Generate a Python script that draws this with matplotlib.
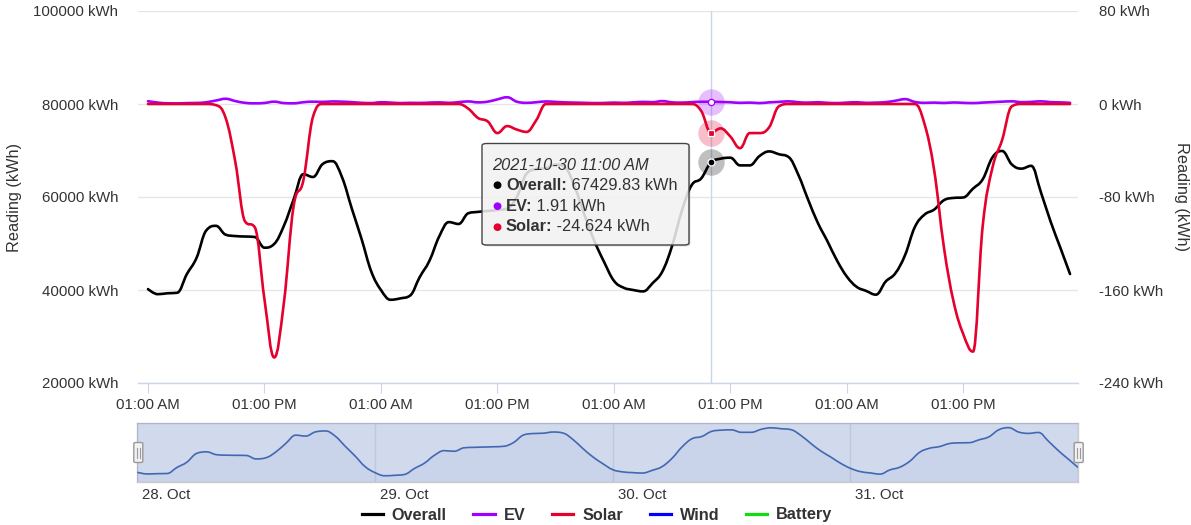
import matplotlib
matplotlib.use("Agg")
import matplotlib.pyplot as plt
from matplotlib.path import Path
from matplotlib.patches import PathPatch, FancyBboxPatch, Rectangle
from matplotlib.lines import Line2D
from matplotlib.text import Annotation
import matplotlib.transforms as mtransforms

# ---------------- data (hourly, 2021-10-28 01:00 -> 2021-11-01 00:00) ----------------
overall = [40200, 39100, 39300, 39400, 43400, 46900, 52800, 53800, 51900, 51600, 51500, 51400,
           49100, 49900, 53800, 59450, 64900, 64300, 67100, 67700, 64200, 57500, 51000, 44000,
           40000, 37900, 38200, 38800, 42800, 46300, 51500, 54600, 54200, 56500, 56800, 57000,
           57200, 57500, 60000, 65000, 66000, 66200, 67000, 66300, 62000, 56000, 50500, 46000,
           42000, 40500, 40000, 39700, 41500, 44000, 49500, 57000, 62500, 64000, 67429.83, 68240,
           68450, 66800, 66800, 68800, 69800, 69200, 68600, 64800, 59500, 54500, 50500, 46300,
           42900, 40700, 39800, 39000, 41800, 43600, 47500, 53500, 56200, 57300, 59300, 59800,
           59900, 61800, 63800, 68500, 69900, 67000, 66100, 66700, 61000, 54700, 49100, 43430]

ev = [2.4, 1.2, 0.6, 0.5, 0.8, 0.9, 1.5, 3.0, 4.5, 2.5, 1.0, 0.6, 0.9, 2.0, 0.8, 0.6, 1.5, 2.0, 1.8, 2.2, 2.0, 1.6, 1.0, 0.8,
      1.5, 1.2, 0.8, 1.0, 0.9, 1.2, 1.4, 1.0, 1.6, 2.2, 1.4, 2.0, 4.0, 5.8, 2.0, 1.0, 1.5, 2.2, 1.8, 1.4, 1.2, 1.0, 0.8, 0.9,
      1.2, 1.0, 1.4, 1.8, 1.6, 2.5, 1.4, 1.2, 1.6, 1.9, 1.91, 1.7, 1.5, 1.0, 1.2, 0.8, 1.4, 1.8, 2.3, 1.5, 1.2, 1.5, 1.0, 0.8,
      1.2, 1.5, 1.0, 1.2, 1.6, 2.8, 4.2, 1.8, 1.0, 1.2, 0.9, 1.3, 1.0, 0.8, 1.2, 1.6, 2.0, 2.3, 1.6, 1.8, 2.3, 1.6, 1.4, 1.0]

solar = [0, 0, 0, 0, 0, 0, 0, -1, -12, -50, -101, -106, -168, -218, -171, -88, -66, -11, 0, 0, 0, 0, 0, 0,
         0, 0, 0, 0, 0, 0, 0, 0, 0, -4, -12, -15, -25, -19, -22, -24, -14, 0, 0, 0, 0, 0, 0, 0,
         0, 0, 0, 0, 0, 0, 0, 0, 0, -6, -24.624, -21, -28, -38, -25, -25, -20, -2, 0, 0, 0, 0, 0, 0,
         0, 0, 0, 0, 0, 0, 0, 0, -17, -57, -123, -170, -198, -213, -105, -55, -31, -2, 0, 0, 0, 0, 0, 0]

hours = list(range(len(overall)))
series_names = ["Overall", "EV", "Solar", "Wind", "Battery"]
series_colors = ["#000000", "#a000ff", "#e5002d", "#0000ff", "#11dd11"]
x_tick_pos = [0, 12, 24, 36, 48, 60, 72, 84]
x_tick_labels = ["01:00 AM", "01:00 PM"] * 4
nav_day_pos = [0, 24, 48, 72]
nav_day_labels = ["28. Oct", "29. Oct", "30. Oct", "31. Oct"]
left_ticks = [20000, 40000, 60000, 80000, 100000]
right_ticks = [-240, -160, -80, 0, 80]
hover_idx = 58
tooltip_title = "2021-10-30 11:00 AM"

# ---------------- helpers ----------------
W, H = 1191, 525
FONT = ["Liberation Sans", "DejaVu Sans"]
plt.rcParams['font.family'] = FONT
TXT = "#333333"


def fx(px):
    return px / W


def fy(py):
    return 1 - py / H


def spline_verts(xs, ys):
    n = len(xs)
    sm = 1.5
    den = sm + 1
    lc = [None] * n
    rc = [None] * n
    for i in range(n):
        x, y = xs[i], ys[i]
        if 0 < i < n - 1:
            lx, ly = xs[i - 1], ys[i - 1]
            nx, ny = xs[i + 1], ys[i + 1]
            lcx = (sm * x + lx) / den
            lcy = (sm * y + ly) / den
            rcx = (sm * x + nx) / den
            rcy = (sm * y + ny) / den
            if rcx != lcx:
                corr = ((rcy - lcy) * (rcx - x)) / (rcx - lcx) + y - rcy
                lcy += corr
                rcy += corr
            if lcy > ly and lcy > y:
                lcy = max(ly, y)
                rcy = 2 * y - lcy
            elif lcy < ly and lcy < y:
                lcy = min(ly, y)
                rcy = 2 * y - lcy
            if rcy > ny and rcy > y:
                rcy = max(ny, y)
                lcy = 2 * y - rcy
            elif rcy < ny and rcy < y:
                rcy = min(ny, y)
                lcy = 2 * y - rcy
            lc[i] = (lcx, lcy)
            rc[i] = (rcx, rcy)
        else:
            lc[i] = (x, y)
            rc[i] = (x, y)
    verts = [(xs[0], ys[0])]
    codes = [Path.MOVETO]
    for i in range(1, n):
        verts += [rc[i - 1], lc[i], (xs[i], ys[i])]
        codes += [Path.CURVE4] * 3
    return verts, codes


def add_spline(ax, xs, ys, color, lw, z=3):
    v, c = spline_verts(xs, ys)
    ax.add_patch(PathPatch(Path(v, c), fill=False, edgecolor=color, lw=lw,
                           zorder=z, capstyle='round', joinstyle='round'))


fig = plt.figure(figsize=(W / 100, H / 100), dpi=100)

# ---------------- main axes ----------------
ax = fig.add_axes([fx(138), fy(383), fx(1078 - 138), (383 - 11) / H])
ax2 = ax.twinx()
ax.set_xlim(-1.03, 95.82)
ax.set_ylim(20000, 100000)
ax2.set_ylim(-240, 80)

for a in (ax, ax2):
    for s in a.spines.values():
        s.set_visible(False)
ax.spines['bottom'].set_visible(True)
ax.spines['bottom'].set_color('#ccd6eb')
ax.spines['bottom'].set_linewidth(1.0)

ax.set_yticks(left_ticks)
ax.set_yticklabels([f"{v} kWh" for v in left_ticks])
ax2.set_yticks(right_ticks)
ax2.set_yticklabels([f"{v} kWh" for v in right_ticks])
ax.tick_params(axis='y', length=0, pad=14.4, labelsize=10.8, labelcolor=TXT)
ax2.tick_params(axis='y', length=0, pad=15, labelsize=10.8, labelcolor=TXT)
for lab in ax.get_yticklabels() + ax2.get_yticklabels():
    lab.set_y(lab.get_position()[1])
ax.set_xticks(x_tick_pos)
ax.set_xticklabels(x_tick_labels)
ax.tick_params(axis='x', length=7.5, width=0.8, color='#ccd6eb', pad=3.5,
               labelsize=10.8, labelcolor=TXT)
ax.yaxis.grid(True, color='#e6e6e6', lw=1.0)
ax.set_axisbelow(True)

# crosshair
ax.axvline(hover_idx, color='#ccd6eb', lw=1.0, zorder=1)

add_spline(ax, hours, overall, series_colors[0], 1.9)
add_spline(ax2, hours, ev, series_colors[1], 1.9, z=3)
add_spline(ax2, hours, solar, series_colors[2], 1.9, z=4)

# hover halos + markers
ax.plot([hover_idx], [overall[hover_idx]], 'o', ms=19, color='#000000', alpha=0.25, mew=0, zorder=5)
ax.plot([hover_idx], [overall[hover_idx]], 'o', ms=5, color='#000000', mec='white', mew=0.9, zorder=6)
ax2.plot([hover_idx], [ev[hover_idx]], 'o', ms=19, color=series_colors[1], alpha=0.25, mew=0, zorder=5)
ax2.plot([hover_idx], [ev[hover_idx]], 'o', ms=4.5, color='white', mec=series_colors[1], mew=0.9, zorder=6)
ax2.plot([hover_idx], [solar[hover_idx]], 'o', ms=19, color=series_colors[2], alpha=0.25, mew=0, zorder=5)
ax2.plot([hover_idx], [solar[hover_idx]], 's', ms=4.5, color=series_colors[2], mec='white', mew=0.9, zorder=6)

# axis titles
fig.text(fx(15), fy(197), "Reading (kWh)", rotation=90, ha='center', va='center',
         fontsize=11.7, color=TXT)
fig.text(fx(1181), fy(197), "Reading (kWh)", rotation=270, ha='center', va='center',
         fontsize=11.7, color=TXT)

# ---------------- navigator ----------------
nav = fig.add_axes([fx(137.3), fy(482), fx(1078 - 137.3), 59 / H])
nav.set_xlim(0, 95)
nav.set_ylim(33750, 73000)
nav.set_xticks([])
nav.set_yticks([])
for s in nav.spines.values():
    s.set_color('#cccccc')
    s.set_linewidth(1.0)
for d in nav_day_pos[1:]:
    nav.axvline(d, color='#e6e6e6', lw=1.0, zorder=1)
v, c = spline_verts(hours, overall)
fill_v = v + [(hours[-1], 33750), (hours[0], 33750), (hours[0], overall[0])]
fill_c = c + [Path.LINETO, Path.LINETO, Path.CLOSEPOLY]
nav.add_patch(PathPatch(Path(fill_v, fill_c), facecolor='#335cad', alpha=0.05, lw=0, zorder=2))
nav.add_patch(PathPatch(Path(v, c), fill=False, edgecolor='#335cad', lw=1.2, zorder=3))
nav.add_patch(Rectangle((0, 0), 1, 1, transform=nav.transAxes,
                        facecolor=(102 / 255, 133 / 255, 194 / 255, 0.3), lw=0, zorder=4))
blend = mtransforms.blended_transform_factory(nav.transData, nav.transAxes)
off = mtransforms.offset_copy(blend, fig=fig, x=5, y=0, units='dots')
for d, lab in zip(nav_day_pos, nav_day_labels):
    nav.text(d, -0.22, lab, transform=off, ha='left', va='center', fontsize=10.8,
             color=TXT, clip_on=False)

# navigator handles
for cx in (138.3, 1078.7):
    cy = 452.5
    hw, hh = 9, 20
    fig.patches.append(FancyBboxPatch((fx(cx - hw / 2), fy(cy + hh / 2)), fx(hw), hh / H,
                                      boxstyle='round,pad=0,rounding_size=0.002',
                                      transform=fig.transFigure, facecolor='#f2f2f2',
                                      edgecolor='#999999', lw=1.0, zorder=10))
    for dx in (-1.5, 1.5):
        fig.add_artist(Line2D([fx(cx + dx), fx(cx + dx)], [fy(cy - 5), fy(cy + 5)],
                              transform=fig.transFigure, color='#999999', lw=0.8, zorder=11))

# ---------------- tooltip ----------------
bx0, by0, bx1, by1 = 482, 143.5, 689, 245
fig.patches.append(FancyBboxPatch((fx(bx0 + 1.5), fy(by1 + 1.5)), fx(bx1 - bx0), (by1 - by0) / H,
                                  boxstyle='round,pad=0,rounding_size=0.004',
                                  transform=fig.transFigure, facecolor='black', alpha=0.12,
                                  lw=0, zorder=20))
fig.patches.append(FancyBboxPatch((fx(bx0), fy(by1)), fx(bx1 - bx0), (by1 - by0) / H,
                                  boxstyle='round,pad=0,rounding_size=0.004',
                                  transform=fig.transFigure, facecolor=(0.97, 0.97, 0.97, 0.85),
                                  edgecolor='#444444', lw=1.0, zorder=21))
fig.text(fx(492.5), fy(165), tooltip_title, style='italic', fontsize=11.8, color=TXT,
         ha='left', va='center', zorder=22)
rows = [(series_names[0], series_colors[0], f"{overall[hover_idx]:.2f} kWh", 185.5),
        (series_names[1], series_colors[1], f"{ev[hover_idx]:.2f} kWh", 206.5),
        (series_names[2], series_colors[2], f"{solar[hover_idx]:.3f} kWh", 227)]
for name, col, val, py in rows:
    fig.text(fx(497), fy(py), "\u25CF", color=col, fontsize=7.5, ha='center', va='center',
             zorder=22, family=["DejaVu Sans"])
    t = fig.text(fx(506), fy(py), name + ":", fontweight='bold', fontsize=11.8, color=TXT,
                 ha='left', va='center', zorder=22)
    ann = Annotation(" " + val, xy=(1, fy(py)), xycoords=(t, 'figure fraction'),
                     fontsize=11.8, color=TXT, ha='left', va='center', zorder=22)
    fig.add_artist(ann)

# ---------------- legend ----------------
handles = [Line2D([], [], color=c, lw=2.3) for c in series_colors]
leg = fig.legend(handles, series_names, loc='center', bbox_to_anchor=(0.5013, fy(515)),
                 ncol=5, frameon=False, prop={'weight': 'bold', 'size': 11.7},
                 handlelength=1.3, handletextpad=0.55, columnspacing=1.65)
for txt in leg.get_texts():
    txt.set_color(TXT)

fig.savefig("out.png", dpi=100)
